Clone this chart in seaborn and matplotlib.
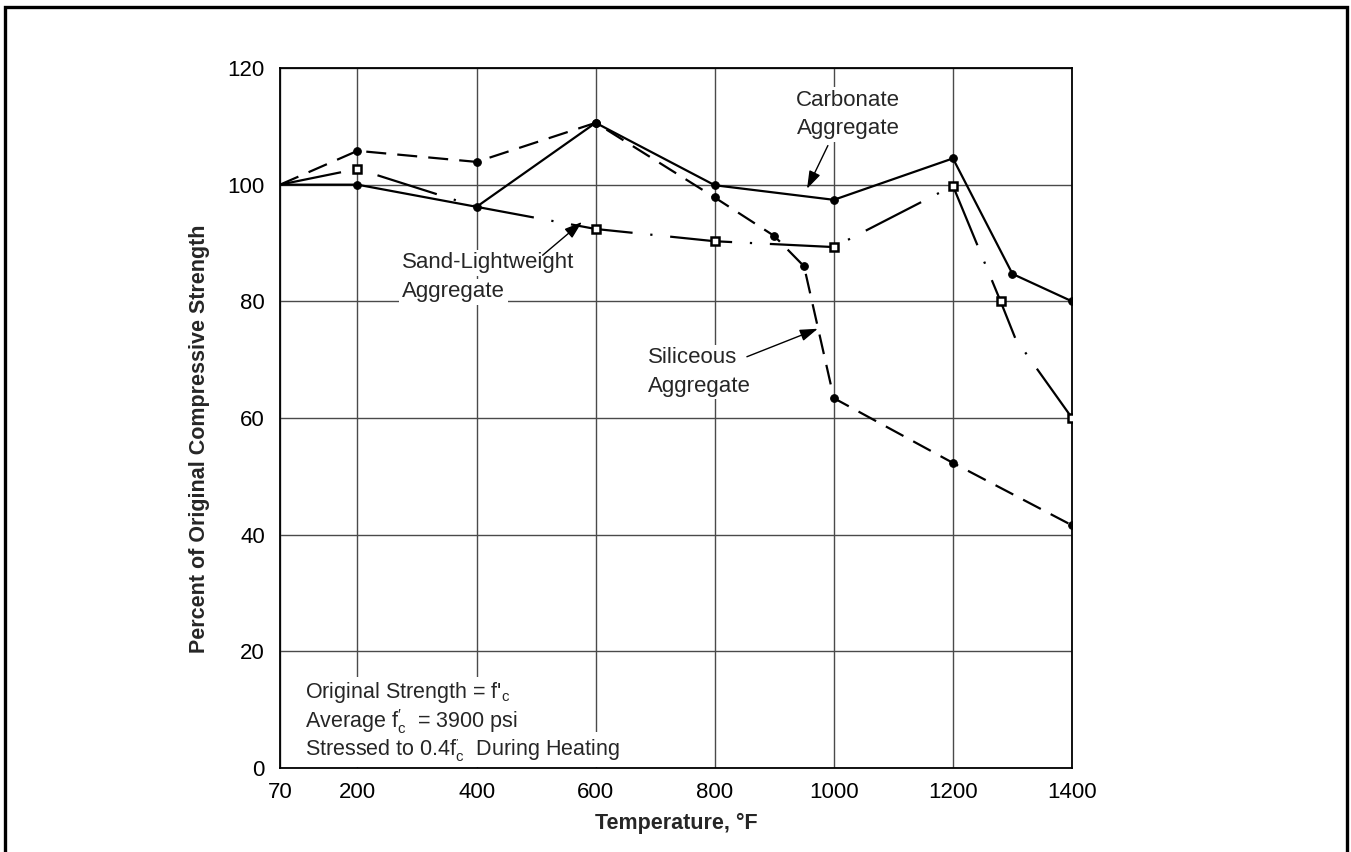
import matplotlib
matplotlib.use("Agg")
import matplotlib.pyplot as plt
import seaborn as sns
from matplotlib.patches import Rectangle

# ---------------------------------------------------------------
# data
# ---------------------------------------------------------------
temp_ticks = [70, 200, 400, 600, 800, 1000, 1200, 1400]
pct_ticks = [0, 20, 40, 60, 80, 100, 120]

temp_carbonate = [70, 200, 400, 600, 800, 1000, 1200, 1300, 1400]
pct_carbonate = [100, 100, 96.2, 110.6, 99.9, 97.4, 104.5, 84.7, 80]

temp_siliceous = [70, 200, 400, 600, 800, 900, 950, 1000, 1200, 1400]
pct_siliceous = [100, 105.8, 103.9, 110.6, 97.8, 91.2, 86.0, 63.4, 52.3, 41.6]

temp_sand = [70, 200, 400, 600, 800, 1000, 1200, 1280, 1305, 1400]
pct_sand = [100, 102.7, 96.2, 92.4, 90.3, 89.3, 99.8, 80, 73.6, 60]

note_lines = [
    "Original Strength = f$'_c$",
    "Average f$_c'$  = 3900 psi",
    "Stressed to 0.4f$_c'$  During Heating",
]
note_y = [13.0, 8.0, 3.2]

# ---------------------------------------------------------------
# style
# ---------------------------------------------------------------
sns.set_theme(style="white")
plt.rcParams["font.family"] = ["Liberation Sans", "DejaVu Sans"]
plt.rcParams["mathtext.fontset"] = "custom"
plt.rcParams["mathtext.rm"] = "Liberation Sans"
plt.rcParams["mathtext.it"] = "Liberation Sans"
plt.rcParams["mathtext.bf"] = "Liberation Sans:bold"

fig = plt.figure(figsize=(13.51, 8.52), dpi=100)
ax = fig.add_axes([0.2073, 0.0986, 0.5862, 0.8216])

# grid
for t in temp_ticks:
    ax.axvline(t, color="#4a4a4a", lw=1.0, zorder=1)
for p in pct_ticks:
    ax.axhline(p, color="#4a4a4a", lw=1.0, zorder=1)

# ---------------------------------------------------------------
# series
# ---------------------------------------------------------------
sns.lineplot(x=temp_carbonate, y=pct_carbonate, ax=ax, color="black", lw=1.6,
             marker="o", markersize=5.5, markerfacecolor="black",
             markeredgecolor="black", markevery=list(range(1, 9)), zorder=4)

sns.lineplot(x=temp_siliceous, y=pct_siliceous, ax=ax, color="black", lw=1.6,
             linestyle=(0, (9, 5)), marker="o", markersize=5.5,
             markerfacecolor="black", markeredgecolor="black",
             markevery=list(range(1, 10)), zorder=4)

sns.lineplot(x=temp_sand, y=pct_sand, ax=ax, color="black", lw=1.6,
             linestyle=(0, (28, 8, 1, 8)), marker="s", markersize=5.5,
             markerfacecolor="white", markeredgecolor="black",
             markeredgewidth=1.8, markevery=[1, 3, 4, 5, 6, 7, 9], zorder=4)

# ---------------------------------------------------------------
# labels and arrows
# ---------------------------------------------------------------
box = dict(facecolor="white", edgecolor="none", pad=2)
arrow = dict(arrowstyle="-|>,head_length=0.6,head_width=0.2", color="black",
             lw=1.0, mutation_scale=18, shrinkA=0, shrinkB=0)

ax.text(1024, 112, "Carbonate\nAggregate", ha="center", va="center",
        fontsize=16, linespacing=1.45, bbox=box, zorder=5)
ax.annotate("", xy=(955, 99.3), xytext=(990, 106.7), arrowprops=arrow, zorder=5)

ax.text(275, 86.6, "Sand-Lightweight", ha="left", va="center",
        fontsize=16, bbox=box, zorder=5)
ax.text(275, 81.6, "Aggregate", ha="left", va="center",
        fontsize=16, bbox=box, zorder=5)
ax.annotate("", xy=(577, 93.6), xytext=(511, 87.9), arrowprops=arrow, zorder=5)

ax.text(688, 67.9, "Siliceous\nAggregate", ha="left", va="center",
        fontsize=16, linespacing=1.45, bbox=box, zorder=5)
ax.annotate("", xy=(973, 75.3), xytext=(854, 70.5), arrowprops=arrow, zorder=5)

# one white box per note line so the grid shows between them as in the figure
for i, (line, yy) in enumerate(zip(note_lines, note_y)):
    ax.text(112, yy, line, ha="left", va="center", fontsize=15.5,
            bbox=dict(facecolor="white", edgecolor="none", pad=2.2),
            zorder=2.3 - 0.1 * i)

# ---------------------------------------------------------------
# axes
# ---------------------------------------------------------------
ax.set_xlim(70, 1400)
ax.set_ylim(0, 120)
ax.set_xticks(temp_ticks)
ax.set_yticks(pct_ticks)
ax.set_xticklabels([str(t) for t in temp_ticks])
ax.set_yticklabels([str(p) for p in pct_ticks])
ax.tick_params(axis="both", length=0, labelsize=16, colors="black")
ax.tick_params(axis="x", pad=10)
ax.tick_params(axis="y", pad=11)
for s in ax.spines.values():
    s.set_color("black")
    s.set_linewidth(1.3)
    s.set_zorder(3)

ax.set_xlabel("Temperature, °F", fontsize=15.5, fontweight="bold")
ax.set_ylabel("Percent of Original Compressive Strength", fontsize=15.5,
              fontweight="bold")
ax.xaxis.set_label_coords(0.5, -0.064)
ax.yaxis.set_label_coords(-0.089, 0.471)

# outer frame round the figure
fig.patches.append(Rectangle((5 / 1351, -0.05), 1342 / 1351, 1.05 - 7 / 852,
                             transform=fig.transFigure, fill=False,
                             edgecolor="black", lw=2.4))

fig.savefig("out.png", dpi=100)
